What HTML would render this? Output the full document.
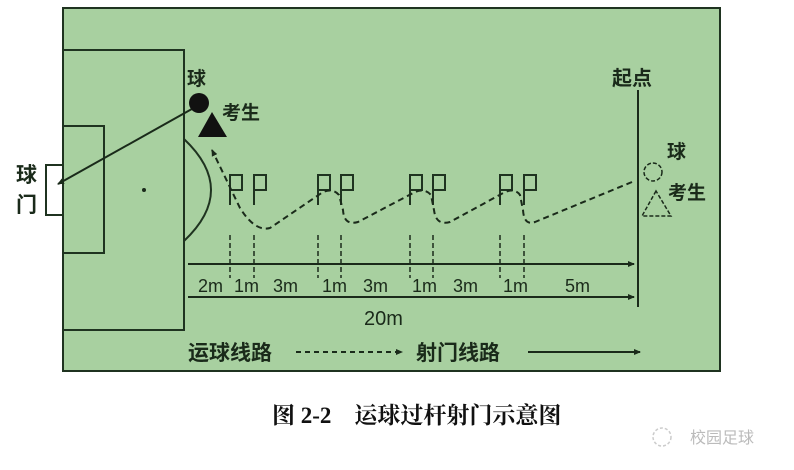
<!DOCTYPE html>
<html><head><meta charset="utf-8"><style>
body{margin:0;background:#fff;}
svg{display:block}
text{font-family:"Liberation Sans","Noto Sans CJK SC",sans-serif;fill:#1a2a1a}
</style></head><body>
<svg width="794" height="470" viewBox="0 0 794 470" xmlns="http://www.w3.org/2000/svg">
<defs>
<marker id="ah" markerWidth="8" markerHeight="8" refX="6" refY="4" orient="auto" markerUnits="userSpaceOnUse"><path d="M0,1 L7,4 L0,7 z" fill="#1a2a1a"/></marker>
</defs>
<rect x="63" y="8" width="657" height="363" fill="#a8d0a0" stroke="#1f3320" stroke-width="2"/>
<g stroke="#1f3320" stroke-width="2" fill="none">
<rect x="63" y="50" width="121" height="280"/>
<rect x="63" y="126" width="41" height="127"/>
<rect x="46" y="165" width="17" height="50" fill="#fff"/>
<path d="M184,139 Q238,190 184,241"/>
</g>
<circle cx="144" cy="190" r="2" fill="#1a2a1a"/>
<line x1="199" y1="105" x2="58" y2="184" stroke="#1a2a1a" stroke-width="2" marker-end="url(#ah)"/>
<circle cx="199" cy="103" r="10" fill="#111"/>
<polygon points="212,112 198,137 227,137" fill="#111"/>
<g font-weight="bold">
<text x="187" y="85" font-size="19">球</text>
<text x="222" y="119" font-size="19">考生</text>
<text x="16" y="182" font-size="21">球</text>
<text x="16" y="212" font-size="21">门</text>
</g>
<g stroke="#1f3320" stroke-width="2" fill="none">
<path d="M230,205 V175 H242 V190 H230"/><path d="M254,205 V175 H266 V190 H254"/>
<path d="M318,205 V175 H330 V190 H318"/><path d="M341,205 V175 H353 V190 H341"/>
<path d="M410,205 V175 H422 V190 H410"/><path d="M433,205 V175 H445 V190 H433"/>
<path d="M500,205 V175 H512 V190 H500"/><path d="M524,205 V175 H536 V190 H524"/>
</g>
<path d="M632,182 L535,222 Q524,226 523,210 L520,195 Q515,188 505,192 L450,222 Q436,226 434,210 L431,195 Q425,188 415,192 L358,222 Q344,226 343,210 L339,195 Q333,188 323,192 L270,228 Q255,232 240,208 L212,150" fill="none" stroke="#1a2a1a" stroke-width="2" stroke-dasharray="6,4" marker-end="url(#ah)"/>
<line x1="638" y1="90" x2="638" y2="307" stroke="#1a2a1a" stroke-width="2"/>
<g font-weight="bold">
<text x="612" y="85" font-size="20">起点</text>
<text x="667" y="158" font-size="19">球</text>
<text x="668" y="199" font-size="19">考生</text>
</g>
<circle cx="653" cy="172" r="9" fill="none" stroke="#1a2a1a" stroke-width="1.5" stroke-dasharray="4,2"/>
<polygon points="656,191 642,216 671,216" fill="none" stroke="#1a2a1a" stroke-width="1.5" stroke-dasharray="4,2"/>
<g stroke="#1a2a1a" stroke-width="1.5" stroke-dasharray="5,3">
<line x1="230" y1="235" x2="230" y2="278"/><line x1="254" y1="235" x2="254" y2="278"/>
<line x1="318" y1="235" x2="318" y2="278"/><line x1="341" y1="235" x2="341" y2="278"/>
<line x1="410" y1="235" x2="410" y2="278"/><line x1="433" y1="235" x2="433" y2="278"/>
<line x1="500" y1="235" x2="500" y2="278"/><line x1="524" y1="235" x2="524" y2="278"/>
</g>
<line x1="188" y1="264" x2="634" y2="264" stroke="#1a2a1a" stroke-width="2" marker-end="url(#ah)"/>
<line x1="188" y1="297" x2="634" y2="297" stroke="#1a2a1a" stroke-width="2" marker-end="url(#ah)"/>
<g font-size="18">
<text x="198" y="292">2m</text><text x="234" y="292">1m</text><text x="273" y="292">3m</text>
<text x="322" y="292">1m</text><text x="363" y="292">3m</text><text x="412" y="292">1m</text>
<text x="453" y="292">3m</text><text x="503" y="292">1m</text><text x="565" y="292">5m</text>
<text x="364" y="325" font-size="20">20m</text>
</g>
<text x="188" y="360" font-size="21" font-weight="bold">运球线路</text>
<line x1="296" y1="352" x2="402" y2="352" stroke="#1a2a1a" stroke-width="2" stroke-dasharray="5,4" marker-end="url(#ah)"/>
<text x="416" y="360" font-size="21" font-weight="bold">射门线路</text>
<line x1="528" y1="352" x2="640" y2="352" stroke="#1a2a1a" stroke-width="2" marker-end="url(#ah)"/>
<text x="272" y="423" font-size="23" font-weight="bold" style="font-family:'Liberation Serif','Noto Serif CJK SC',serif;fill:#111">图 2-2　运球过杆射门示意图</text>
<text x="690" y="443" font-size="16" style="fill:#bbb">校园足球</text>
<circle cx="662" cy="437" r="9" fill="none" stroke="#ccc" stroke-width="1.5" stroke-dasharray="3,2"/>
</svg>
</body></html>
